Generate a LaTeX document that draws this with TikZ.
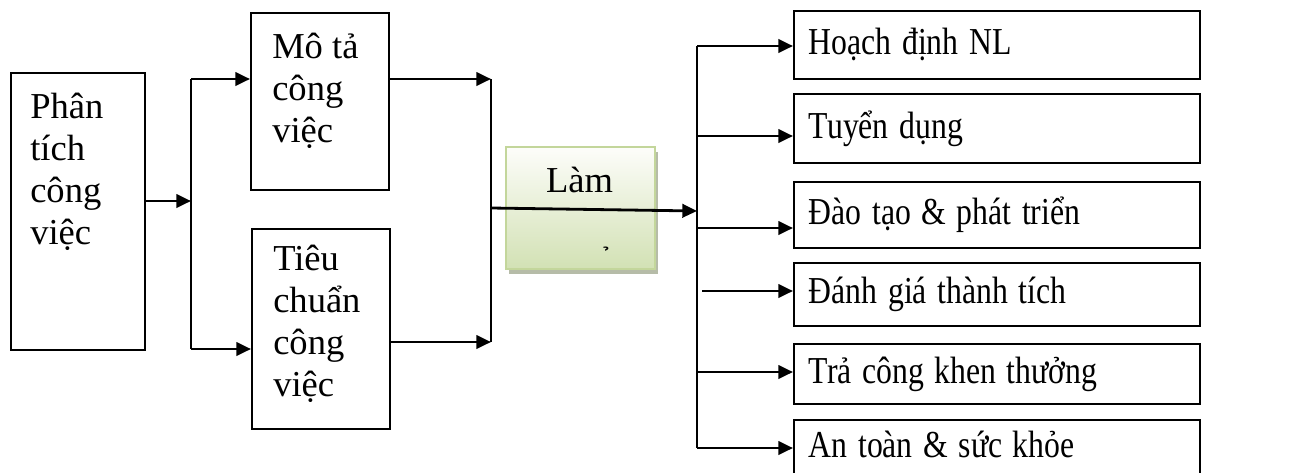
\documentclass[tikz,border=0pt]{standalone}
\usepackage{fontspec}
\usepackage{graphicx}
\setmainfont{Liberation Serif}
\usetikzlibrary{arrows.meta,shadows}

\definecolor{lamtop}{RGB}{253,253,250}
\definecolor{lambot}{RGB}{210,225,180}
\definecolor{lamedge}{RGB}{195,214,155}
\definecolor{lamshade}{RGB}{182,188,168}

\newcommand{\tallword}[1]{\scalebox{1}[1.2]{#1}}

\tikzset{
  box/.style={draw, line width=1.3pt, inner sep=0pt, anchor=north west},
  bigtext/.style={anchor=north west, align=left, inner sep=0pt,
    font=\fontsize{27.4}{31.5}\selectfont},
  task/.style={draw, line width=1.3pt, anchor=north west, minimum width=304.5pt,
    text width=282pt, align=left, inner xsep=11.25pt, inner ysep=0pt,
    font=\fontsize{23.8}{28}\selectfont},
  link/.style={line width=2.1pt},
  flow/.style={link, -{Triangle[length=11pt,width=10pt]}},
}

\begin{document}
\begin{tikzpicture}[x=0.75pt,y=-0.75pt]
\useasboundingbox (0,0) rectangle (1300,472);

% left part
\node[box, minimum width=100.5pt, minimum height=207.75pt] (phantich) at (10,72) {};
\node[bigtext] (phantichTxt) at (30,93) {Phân\\tích\\công\\việc};

\node[box, minimum width=103.5pt, minimum height=132.75pt] (mota) at (250,12) {};
\node[bigtext] (motaTxt) at (272,33) {Mô tả\\công\\việc};

\node[box, minimum width=103.5pt, minimum height=150pt] (tieuchuan) at (251,228) {};
\node[bigtext] (tieuchuanTxt) at (273,245) {Tiêu\\chuẩn\\công\\việc};

\coordinate (fork1) at (191,201);
\coordinate (fork1up) at (191,79);
\coordinate (fork1dn) at (191,349);

\draw[flow] (phantich.east |- fork1) -- (fork1);
\draw[link] (fork1up) -- (fork1dn);
\draw[flow] (fork1up) -- (mota.west |- fork1up);
\draw[flow] (fork1dn) -- (tieuchuan.west |- fork1dn);

\coordinate (join1up) at (491,79);
\coordinate (join1dn) at (491,342);
\coordinate (join1mid) at (491,208);

\draw[flow] (mota.east |- join1up) -- (join1up);
\draw[flow] (tieuchuan.east |- join1dn) -- (join1dn);
\draw[link] (join1up) -- (join1dn);

% middle box
\node[box, line width=1.5pt, draw=lamedge, top color=lamtop, bottom color=lambot,
  drop shadow={shadow xshift=2pt, shadow yshift=-4pt, fill=lamshade, opacity=1},
  minimum width=111.75pt, minimum height=91.5pt] (lam) at (505,146) {};
\node[anchor=base, inner sep=0pt, font=\fontsize{27.4}{31.5}\selectfont] (lamTxt) at (579.5,192) {Làm};
\node[inner sep=0pt, font=\fontsize{18}{18}\selectfont] (lamMark) at (609,258) {̉};

% right part
\node[task, minimum height=51pt] (hoachdinh) at (793,10) {\tallword{Hoạch định NL}};
\node[task, minimum height=51.75pt] (tuyendung) at (793,93) {\tallword{Tuyển dụng}};
\node[task, minimum height=49.5pt] (daotao) at (793,181) {\tallword{Đào tạo \& phát triển}};
\node[task, minimum height=47.25pt] (danhgia) at (793,262) {\tallword{Đánh giá thành tích}};
\node[task, minimum height=45pt] (tracong) at (793,343) {\tallword{Trả công khen thưởng}};
\node[task, text height=28.5pt, text depth=30pt] (antoan) at (793,419) {\tallword{An toàn \& sức khỏe}};

\coordinate (fork2) at (697,211);
\coordinate (fork2up) at (697,46);
\coordinate (fork2dn) at (697,448);

\draw[flow] (join1mid) -- (fork2);
\draw[link] (fork2up) -- (fork2dn);

\foreach \t/\y in {hoachdinh/46, tuyendung/136, daotao/228, tracong/372, antoan/448} {
  \coordinate (in-\t) at (697,\y);
  \draw[flow] (in-\t) -- (\t.west |- in-\t);
}
\coordinate (in-danhgia) at (702,291);
\draw[flow] (in-danhgia) -- (danhgia.west |- in-danhgia);

\end{tikzpicture}
\end{document}
